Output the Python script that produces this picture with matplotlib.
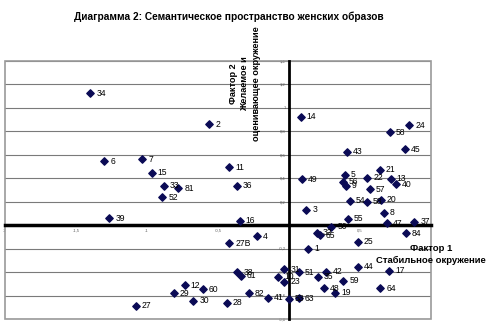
import matplotlib
matplotlib.use("Agg")
import matplotlib.pyplot as plt
from matplotlib.patches import Rectangle
from matplotlib.ticker import FuncFormatter

plt.rcParams['font.family'] = ['Liberation Sans', 'DejaVu Sans']

# точки: номер образа, фактор 1, фактор 2
labels = ["34", "2", "6", "7", "15", "33", "81", "52", "39", "11",
          "36", "16", "27B", "38", "61", "12", "60", "29", "30", "28",
          "27", "4", "82", "41", "53", "63", "31", "10", "23", "51",
          "35", "42", "48", "19", "59", "44", "17", "64", "25", "84",
          "37", "47", "8", "55", "50", "1", "32", "65", "3", "49",
          "14", "43", "24", "58", "45", "21", "5", "22", "13", "40",
          "56", "9", "57", "54", "58", "20"]
f1 = [-1.400, -0.561, -1.301, -1.032, -0.968, -0.880, -0.779, -0.891, -1.266, -0.423,
      -0.369, -0.346, -0.420, -0.364, -0.341, -0.734, -0.606, -0.810, -0.673, -0.437,
      -1.077, -0.225, -0.283, -0.148, -0.001, 0.069, -0.032, -0.074, -0.032, 0.067,
      0.202, 0.264, 0.245, 0.327, 0.383, 0.483, 0.704, 0.643, 0.483, 0.824,
      0.883, 0.692, 0.666, 0.413, 0.297, 0.135, 0.198, 0.216, 0.123, 0.093,
      0.081, 0.409, 0.847, 0.708, 0.814, 0.638, 0.394, 0.550, 0.715, 0.752,
      0.379, 0.401, 0.571, 0.427, 0.550, 0.645]
f2 = [1.121, 0.857, 0.545, 0.559, 0.445, 0.335, 0.312, 0.236, 0.057, 0.491,
      0.334, 0.037, -0.156, -0.403, -0.431, -0.511, -0.545, -0.581, -0.644, -0.661,
      -0.687, -0.094, -0.581, -0.619, -0.626, -0.624, -0.377, -0.440, -0.483, -0.404,
      -0.440, -0.397, -0.539, -0.576, -0.474, -0.355, -0.389, -0.539, -0.142, -0.071,
      0.030, 0.014, 0.105, 0.054, -0.014, -0.204, -0.066, -0.089, 0.128, 0.391,
      0.922, 0.624, 0.851, 0.791, 0.644, 0.472, 0.430, 0.403, 0.393, 0.346,
      0.370, 0.336, 0.304, 0.206, 0.198, 0.217]

x_ticks = [-2, -1.5, -1, -0.5, 0.5]
y_ticks = [-0.8, -0.6, -0.4, -0.2, 0.2, 0.4, 0.6, 0.8, 1, 1.2, 1.4]

fig = plt.figure(figsize=(5, 3.23), dpi=100)
ax = fig.add_axes([0.01, 0.0124, 0.852, 0.8])
ax.set_xlim(-2, 1)
ax.set_ylim(-0.8, 1.4)

# сетка только по горизонтали
for yv in y_ticks:
    ax.axhline(yv, color='#7a7a7a', lw=0.8, zorder=1)

ax.scatter(f1, f2, marker='D', s=14, color='#0a0a55', zorder=3)
for lb, xv, yv in zip(labels, f1, f2):
    ax.annotate(lb, (xv, yv), xytext=(4.3, 0), textcoords='offset points',
                fontsize=6.2, va='center', ha='left', zorder=4)

# оси через ноль
for side in ['top', 'right']:
    ax.spines[side].set_visible(False)
ax.spines['left'].set_position(('data', 0))
ax.spines['bottom'].set_position(('data', 0))
ax.spines['left'].set_linewidth(2.0)
ax.spines['bottom'].set_linewidth(2.5)
ax.spines['left'].set_zorder(2)
ax.spines['bottom'].set_zorder(2)
ax.add_patch(Rectangle((0, 0), 1, 1, transform=ax.transAxes, fill=False,
                       edgecolor='#9a9a9a', lw=1.2, zorder=2, clip_on=False))

comma = FuncFormatter(lambda v, p: ('%g' % v).replace('.', ','))
ax.set_xticks(x_ticks)
ax.set_yticks(y_ticks)
ax.xaxis.set_major_formatter(comma)
ax.yaxis.set_major_formatter(comma)
ax.tick_params(axis='both', labelsize=3, length=2, width=0.8, direction='inout',
               colors='black', labelcolor='#555555', pad=1.5)

fig.text(0.458, 0.947, "Диаграмма 2: Семантическое пространство женских образов",
         ha='center', va='center', fontsize=7.3, fontweight='bold')
fig.text(0.49, 0.74, "Фактор 2\nЖелаемое и\nоценивающее окружение", rotation=90,
         ha='center', va='center', multialignment='center', fontsize=6.6,
         fontweight='bold', linespacing=1.35)
fig.text(0.862, 0.213, "Фактор 1\nСтабильное окружение", ha='center', va='center',
         multialignment='center', fontsize=6.8, fontweight='bold', linespacing=1.4)

fig.savefig("out.png", dpi=100)
